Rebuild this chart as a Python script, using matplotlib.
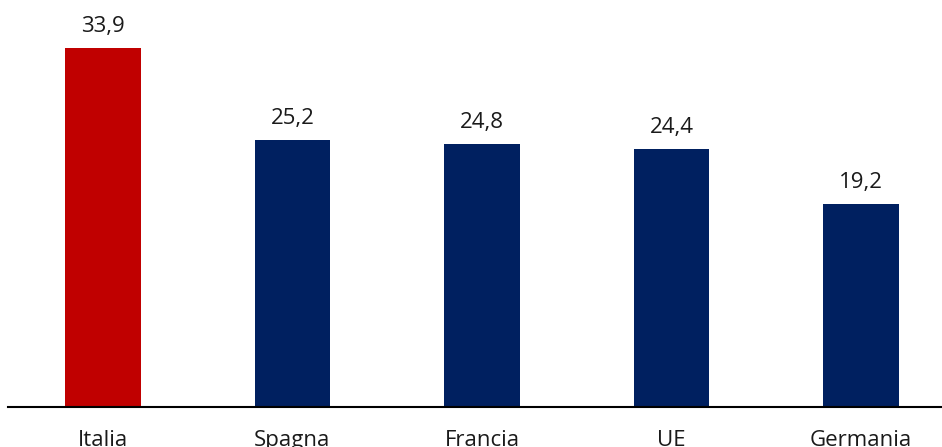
import matplotlib.pyplot as plt

categories = ['Italia', 'Spagna', 'Francia', 'UE', 'Germania']
values = [33.9, 25.2, 24.8, 24.4, 19.2]
colors = ['#C00000', '#002060', '#002060', '#002060', '#002060']

plt.rcParams['font.family'] = ['Open Sans', 'DejaVu Sans']

fig = plt.figure(figsize=(9.42, 4.47), dpi=100)
ax = fig.add_axes([8 / 942, 40 / 447, 934 / 942, 407 / 447])

x = range(len(categories))
bars = ax.bar(x, values, width=0.40, color=colors, zorder=2)

# value labels above each bar, with decimal comma
for b, v in zip(bars, values):
    ax.annotate(f'{v:.1f}'.replace('.', ','),
                (b.get_x() + b.get_width() / 2, v),
                xytext=(0, 15.5), textcoords='offset points',
                ha='center', va='center', fontsize=16, color='#1a1a1a')

ax.set_xlim(-0.501, 4.427)
ax.set_ylim(0, 38.43)
ax.set_xticks(list(x))
ax.set_xticklabels(categories, fontsize=16, color='#1a1a1a')
ax.tick_params(axis='x', length=0, pad=16.5)
ax.set_yticks([])

for s in ['top', 'right', 'left']:
    ax.spines[s].set_visible(False)
ax.spines['bottom'].set_linewidth(1.5)
ax.spines['bottom'].set_color('black')

fig.savefig('out.png', dpi=100)
